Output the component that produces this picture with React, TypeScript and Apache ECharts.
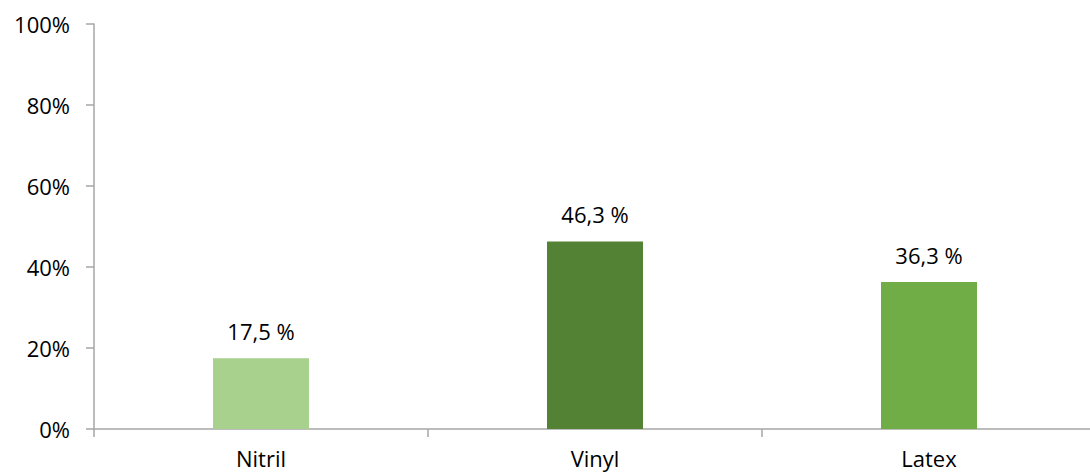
import React, { useEffect, useRef } from "react";
import * as echarts from "echarts";

const categories = ["Nitril", "Vinyl", "Latex"];
const values = [17.5, 46.3, 36.3];
const barColors = ["#A9D18E", "#548235", "#70AD47"];
const yTicks = { min: 0, max: 100, interval: 20 };

export default function App() {
  const ref = useRef<HTMLDivElement>(null);
  useEffect(() => {
    document.body.style.margin = "0";
    const chart = echarts.init(ref.current!, null, { renderer: "svg" });
    const font = "'Open Sans', sans-serif";
    chart.setOption({
      animation: false,
      grid: { left: 94, top: 24, bottom: 44, right: 4 },
      xAxis: {
        type: "category",
        data: categories,
        axisLine: { lineStyle: { color: "#A6A6A6", width: 1.5 } },
        axisTick: { show: true, length: 8, lineStyle: { color: "#A6A6A6", width: 1.5 } },
        axisLabel: { color: "#000", fontSize: 22, fontFamily: font, margin: 18 },
      },
      yAxis: {
        type: "value",
        min: yTicks.min,
        max: yTicks.max,
        interval: yTicks.interval,
        splitLine: { show: false },
        axisLine: { show: true, lineStyle: { color: "#A6A6A6", width: 1.5 } },
        axisTick: { show: true, length: 8, lineStyle: { color: "#A6A6A6", width: 1.5 } },
        axisLabel: {
          color: "#000",
          fontSize: 22,
          fontFamily: font,
          margin: 24,
          formatter: (v: number) => v + "%",
        },
      },
      series: [
        {
          type: "bar",
          barWidth: 96,
          data: values.map((v, i) => ({ value: v, itemStyle: { color: barColors[i] } })),
          label: {
            show: true,
            position: "top",
            distance: 16,
            color: "#000",
            fontSize: 22,
            fontFamily: font,
            formatter: (p: any) => String(p.value).replace(".", ",") + " %",
          },
        },
      ],
    });
    return () => chart.dispose();
  }, []);
  return (
    <div style={{ width: 1090, height: 473, overflow: "hidden" }}>
      <div ref={ref} style={{ width: 1100, height: 473 }} />
    </div>
  );
}
